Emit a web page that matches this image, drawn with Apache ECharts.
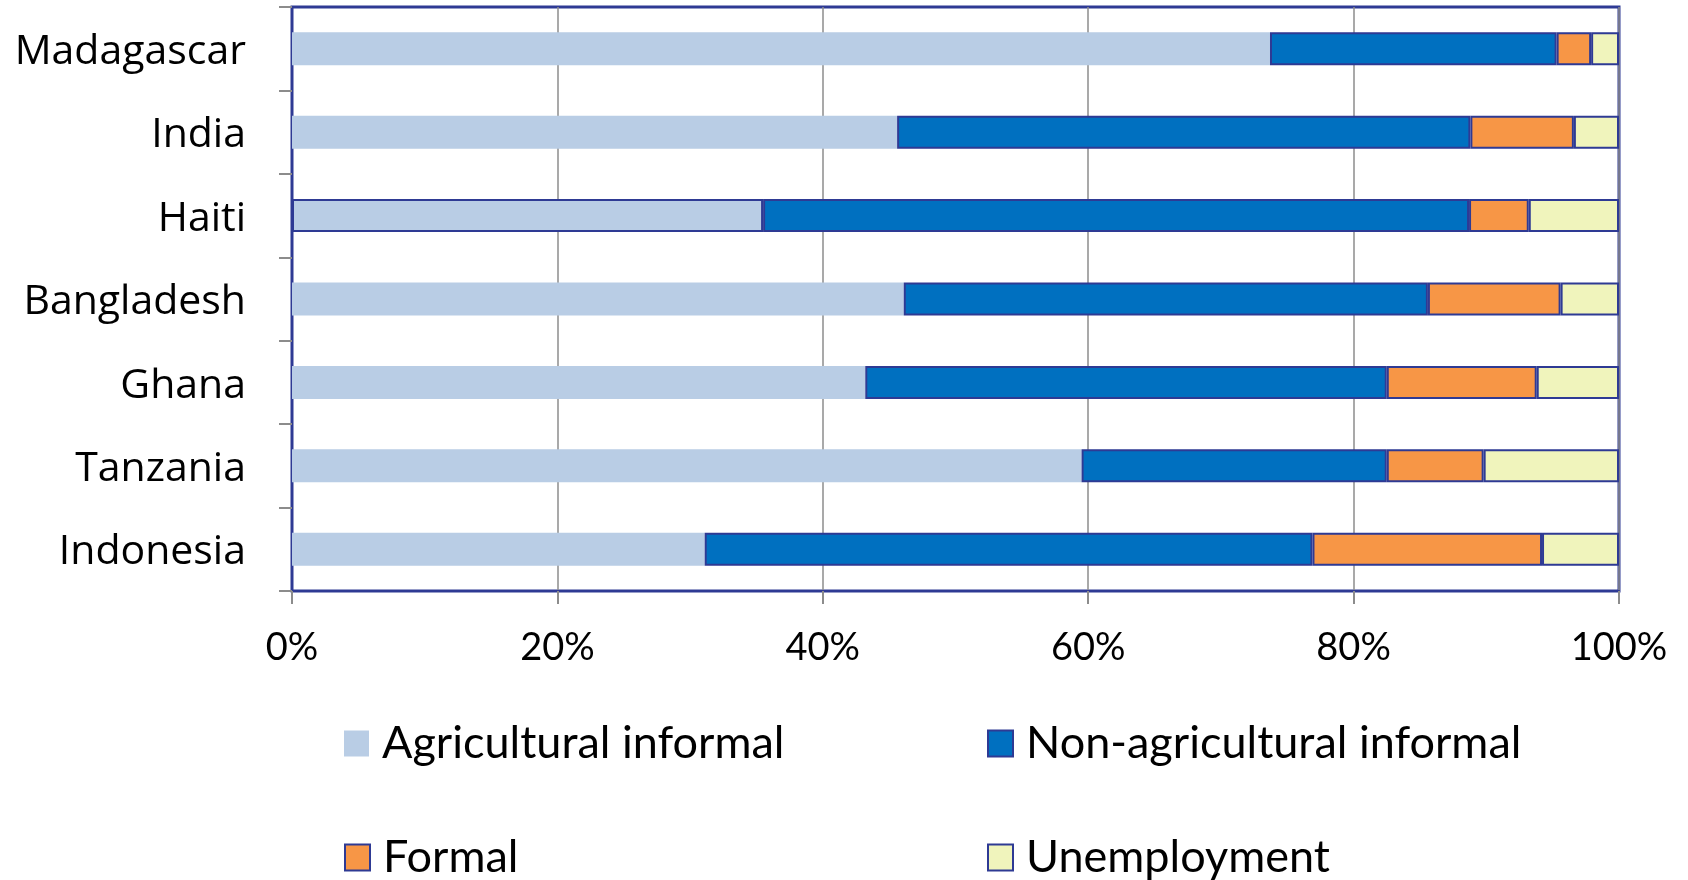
<!DOCTYPE html>
<html>
<head>
<meta charset="utf-8">
<style>
  html, body { margin: 0; padding: 0; background: #ffffff; }
  #chart { width: 1688px; height: 880px; }
</style>
<script src="https://cdn.jsdelivr.net/npm/echarts@6/dist/echarts.min.js"></script>
</head>
<body>
<div id="chart"></div>
<script>
// Employment composition by country (shares of the labour force, %)
const countries = ['Madagascar', 'India', 'Haiti', 'Bangladesh', 'Ghana', 'Tanzania', 'Indonesia'];
const agriculturalInformal    = [73.7, 45.6, 35.5, 46.1, 43.2, 59.5, 31.1];
const nonAgriculturalInformal = [21.6, 43.2, 53.2, 39.5, 39.3, 23.0, 45.8];
const formal                  = [ 2.6,  7.8,  4.5, 10.0, 11.3,  7.3, 17.3];
const unemployment            = [ 2.1,  3.4,  6.8,  4.4,  6.2, 10.2,  5.8];
const seriesNames = ['Agricultural informal', 'Non-agricultural informal', 'Formal', 'Unemployment'];
const xTicks = [0, 20, 40, 60, 80, 100];

const NAVY = '#2E3A94';
const GREY = '#8C8C8C';
const HUMANIST = 'Lato, "Open Sans", sans-serif';

const chart = echarts.init(document.getElementById('chart'), null, { renderer: 'canvas' });

function barSeries(name, values, color, bordered) {
  return {
    name: name,
    type: 'bar',
    stack: 'total',
    barWidth: 33,
    data: values.map((v, i) => {
      // the Haiti agricultural segment is outlined like the other segments
      if (!bordered && countries[i] === 'Haiti') {
        return { value: v, itemStyle: { borderColor: NAVY, borderWidth: 2 } };
      }
      return v;
    }),
    itemStyle: bordered
      ? { color: color, borderColor: NAVY, borderWidth: 2 }
      : { color: color, borderWidth: 0 },
    emphasis: { disabled: true },
    animation: false
  };
}

function legendAt(name, left, top) {
  return {
    data: [name],
    left: left,
    top: top,
    padding: 0,
    icon: 'rect',
    itemWidth: 25,
    itemHeight: 26,
    selectedMode: false,
    textStyle: {
      fontFamily: HUMANIST,
      fontSize: 45,
      color: '#000000',
      padding: [0, 0, 0, 8]
    }
  };
}

chart.setOption({
  backgroundColor: '#ffffff',
  animation: false,
  grid: {
    left: 292,
    right: 69,
    top: 7,
    bottom: 289,
    show: true,
    borderColor: NAVY,
    borderWidth: 3,
    backgroundColor: 'transparent'
  },
  xAxis: {
    type: 'value',
    min: xTicks[0],
    max: xTicks[xTicks.length - 1],
    interval: xTicks[1] - xTicks[0],
    axisLine: { show: true, lineStyle: { color: NAVY, width: 2 } },
    axisTick: { show: true, length: 13, lineStyle: { color: GREY, width: 2 } },
    splitLine: { show: true, lineStyle: { color: GREY, width: 1.5 } },
    axisLabel: {
      formatter: '{value}%',
      fontFamily: HUMANIST,
      fontSize: 38,
      color: '#000000',
      margin: 38
    }
  },
  yAxis: {
    type: 'category',
    data: countries,
    inverse: true,
    axisLine: { show: true, lineStyle: { color: NAVY, width: 2 } },
    axisTick: { show: true, length: 13, lineStyle: { color: GREY, width: 2 } },
    splitLine: { show: false },
    axisLabel: {
      margin: 46,
      formatter: '{c|{value}}',
      rich: {
        c: {
          fontFamily: '"Open Sans", sans-serif',
          fontSize: 41,
          color: '#000000',
          padding: [7, 0, 0, 0]
        }
      }
    }
  },
  legend: [
    legendAt(seriesNames[0], 344, 721),
    legendAt(seriesNames[1], 987, 721),
    legendAt(seriesNames[2], 344, 835),
    legendAt(seriesNames[3], 987, 835)
  ],
  series: [
    barSeries(seriesNames[0], agriculturalInformal, '#B9CDE5', false),
    barSeries(seriesNames[1], nonAgriculturalInformal, '#0070C0', true),
    barSeries(seriesNames[2], formal, '#F79646', true),
    barSeries(seriesNames[3], unemployment, '#F0F4BC', true)
  ]
});
</script>
</body>
</html>
